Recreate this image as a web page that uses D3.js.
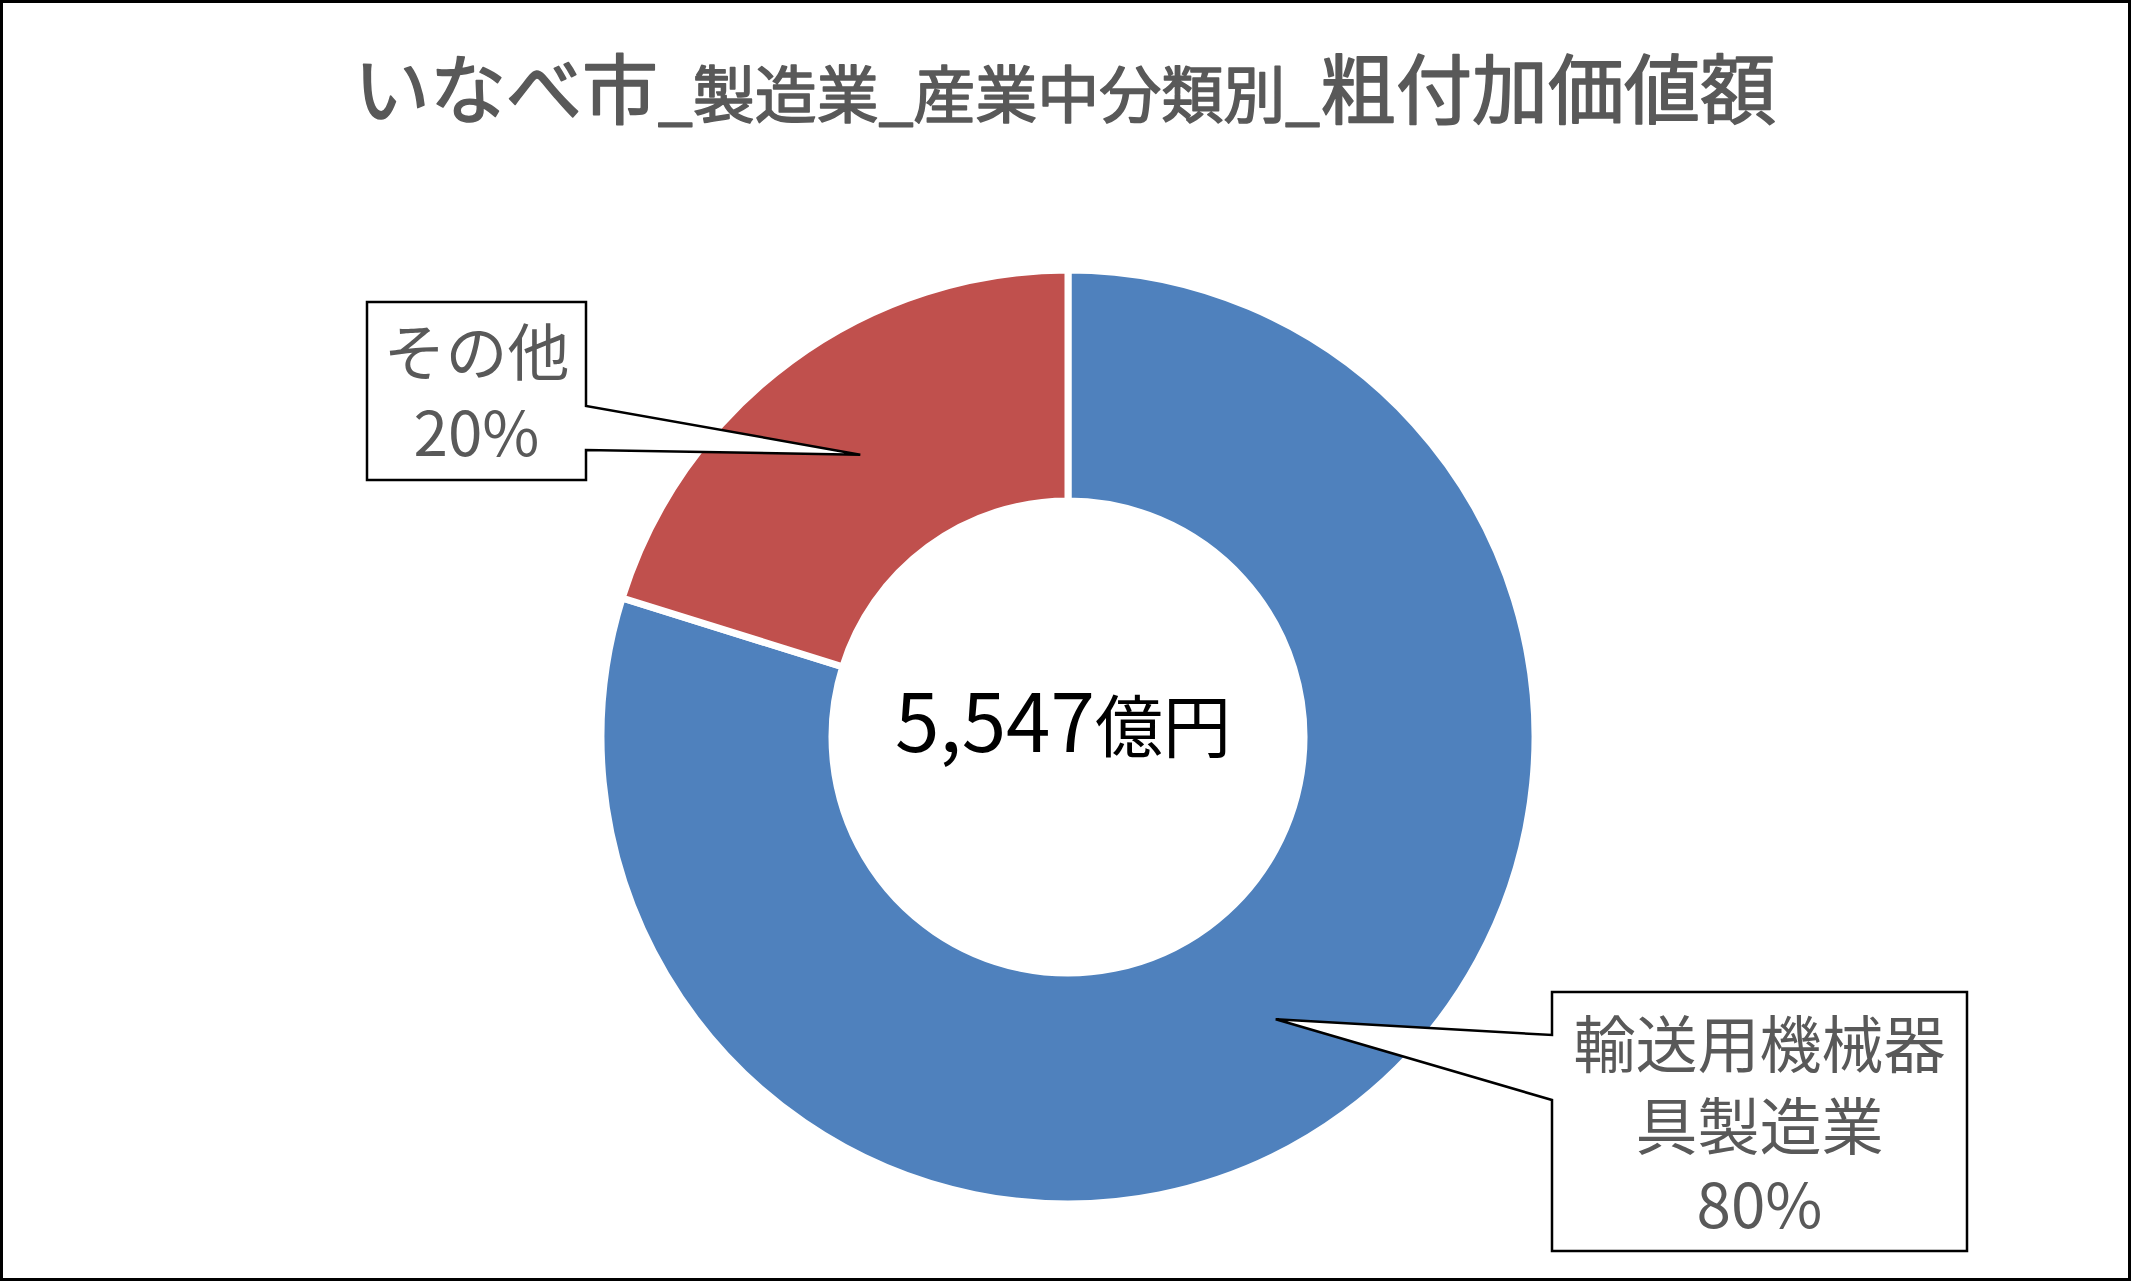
<!DOCTYPE html>
<html>
<head>
<meta charset="utf-8">
<script src="https://cdn.jsdelivr.net/npm/d3@7"></script>
<style>
  html, body { margin: 0; padding: 0; background: #fff; }
  svg { display: block; }
  text { font-family: "Noto Sans CJK JP", "Noto Sans", sans-serif; }
</style>
</head>
<body>
<svg id="chart" width="2131" height="1281"></svg>
<script>
// ---- data ----
const categories = ["輸送用機械器具製造業", "その他"];
const values = [4427, 1120];           // 億円
const labelLines = [["輸送用機械器", "具製造業"], ["その他"]];
const colors = ["#4F81BD", "#C0504D"];
const titleParts = [
  { t: "いなべ市", big: true },
  { t: "_製造業_産業中分類別_", big: false },
  { t: "粗付加価値額", big: true }
];
const unit = "億円";

// ---- layout ----
const W = 2131, H = 1281;
const cx = 1068, cy = 737;
const outerR = 467, innerR = 236;
const svg = d3.select("#chart");

svg.append("rect").attr("x", 1.5).attr("y", 1.5)
  .attr("width", W - 3).attr("height", H - 3)
  .attr("fill", "#fff").attr("stroke", "#000").attr("stroke-width", 3);

// title
const title = svg.append("text").attr("x", 1065).attr("y", 118)
  .attr("text-anchor", "middle").attr("fill", "#595959")
  .attr("stroke", "#595959").attr("stroke-width", 1.6).attr("stroke-linejoin", "round");
titleParts.forEach(p => {
  title.append("tspan").attr("font-size", p.big ? 76 : 62).text(p.t);
});

// donut
const total = d3.sum(values);
const pie = d3.pie().sort(null).value(d => d)(values);
const arc = d3.arc().innerRadius(innerR).outerRadius(outerR);
const g = svg.append("g").attr("transform", `translate(${cx},${cy})`);
g.selectAll("path.slice").data(pie).join("path")
  .attr("class", "slice")
  .attr("d", arc)
  .attr("fill", (d, i) => colors[i])
  .attr("stroke", "#fff").attr("stroke-width", 7).attr("stroke-linejoin", "miter");

// center total
const fmt = d3.format(",");
const ct = svg.append("text").attr("x", 1063).attr("y", 752)
  .attr("text-anchor", "middle").attr("fill", "#000");
ct.append("tspan").attr("font-size", 80).text(fmt(total));
ct.append("tspan").attr("font-size", 68).text(unit);

// callouts
const midR = (innerR + outerR) / 2 - 1;
const midArc = d3.arc().innerRadius(midR).outerRadius(midR);
const boxes = [
  { x0: 1552, y0: 992, x1: 1967, y1: 1251, side: "left", n0: 1035, n1: 1100, baselines: [1068, 1150, 1228] },
  { x0: 367, y0: 302, x1: 586, y1: 480, side: "right", n0: 406, n1: 450, baselines: [376, 456] }
];
pie.forEach((d, i) => {
  const b = boxes[i];
  const c = midArc.centroid(d);
  const tx = cx + c[0], ty = cy + c[1];
  let pts;
  if (b.side === "left") {
    pts = [[b.x0, b.y0], [b.x1, b.y0], [b.x1, b.y1], [b.x0, b.y1], [b.x0, b.n1], [tx, ty], [b.x0, b.n0]];
  } else {
    pts = [[b.x0, b.y0], [b.x1, b.y0], [b.x1, b.n0], [tx, ty], [b.x1, b.n1], [b.x1, b.y1], [b.x0, b.y1]];
  }
  svg.append("path").attr("d", d3.line()(pts) + "Z")
    .attr("fill", "#fff").attr("stroke", "#000").attr("stroke-width", 2.5)
    .attr("stroke-linejoin", "miter");
  const lines = labelLines[i].concat([Math.round(values[i] / total * 100) + "%"]);
  const xm = (b.x0 + b.x1) / 2;
  const t = svg.append("text").attr("text-anchor", "middle")
    .attr("font-size", 62).attr("fill", "#595959");
  lines.forEach((ln, k) => {
    t.append("tspan").attr("x", xm).attr("y", b.baselines[k]).text(ln);
  });
});
</script>
</body>
</html>
